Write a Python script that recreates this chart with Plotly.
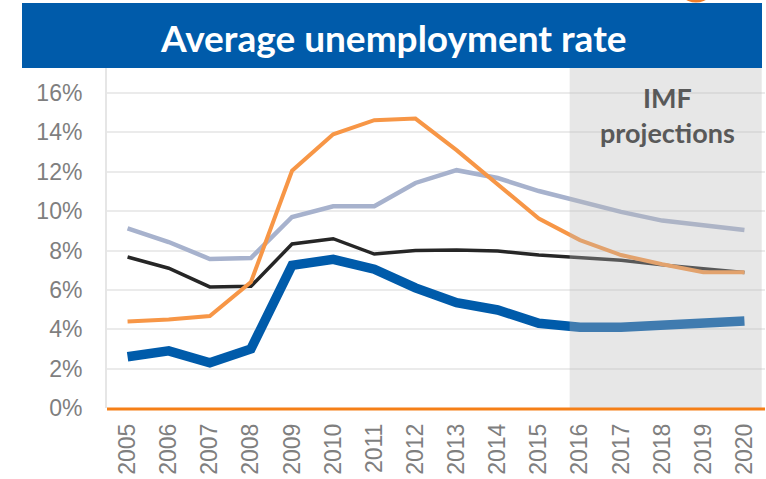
import plotly.graph_objects as go

# Unemployment rate series, 2005-2020 (2016 onwards are projections)
years = list(range(2005, 2021))
blue_series = [2.6, 2.9, 2.3, 3.0, 7.25, 7.55, 7.05, 6.1, 5.35, 4.98, 4.3, 4.1, 4.1, 4.2, 4.3, 4.42]
orange_series = [4.4, 4.5, 4.67, 6.4, 12.05, 13.9, 14.62, 14.7, 13.1, 11.35, 9.62, 8.53, 7.77, 7.3, 6.9, 6.9]
black_series = [7.67, 7.1, 6.15, 6.18, 8.33, 8.6, 7.82, 8.0, 8.03, 7.97, 7.77, 7.65, 7.5, 7.27, 7.08, 6.88]
grey_series = [9.12, 8.43, 7.57, 7.62, 9.7, 10.25, 10.25, 11.43, 12.08, 11.68, 11.02, 10.48, 9.96, 9.52, 9.29, 9.04]
y_ticks = [0, 2, 4, 6, 8, 10, 12, 14, 16]
projection_start = 2015.75
title_text = "Average unemployment rate"
projection_text = "IMF<br>projections"

W, H = 766, 479
L, R, T, B = 107, 1, 68, 71
pw, ph = W - L - R, H - T - B
y_top = 17.27


def px_x(p):
    return (p - L) / pw


def px_y(p):
    return (H - B - p) / ph


fig = go.Figure()
fig.add_trace(go.Scatter(x=years, y=grey_series, mode="lines",
                         line=dict(color="#A7B2CD", width=4.5)))
fig.add_trace(go.Scatter(x=years, y=black_series, mode="lines",
                         line=dict(color="#262626", width=3.5)))
fig.add_trace(go.Scatter(x=years, y=orange_series, mode="lines",
                         line=dict(color="#F79646", width=4)))
fig.add_trace(go.Scatter(x=years, y=blue_series, mode="lines",
                         line=dict(color="#005BAA", width=9.5)))

shapes = [
    # projection band, drawn over the lines so they appear faded
    dict(type="rect", xref="x", yref="y", x0=projection_start, x1=2020.42,
         y0=0, y1=y_top, fillcolor="rgba(185,185,185,0.345)", line=dict(width=0),
         layer="above"),
    # zero baseline
    dict(type="line", xref="paper", yref="paper", x0=0, x1=1, y0=px_y(409), y1=px_y(409),
         line=dict(color="#F57F17", width=3), layer="above"),
    # title banner
    dict(type="rect", xref="paper", yref="paper", x0=px_x(22), x1=px_x(762),
         y0=px_y(68), y1=px_y(3), fillcolor="#005BAA", line=dict(width=0)),
    # small orange mark at top edge
    dict(type="circle", xref="paper", yref="paper", x0=px_x(676), x1=px_x(716),
         y0=px_y(2.5), y1=px_y(-37), fillcolor="#F07E2A", line=dict(width=0)),
]

annotations = [
    dict(text=title_text, xref="paper", yref="paper", x=px_x(393), y=px_y(37),
         showarrow=False, xanchor="center", yanchor="middle",
         font=dict(family="Lato", size=37, color="white", weight="bold")),
    dict(text=projection_text, xref="paper", yref="paper", x=px_x(667), y=px_y(115),
         showarrow=False, xanchor="center", yanchor="middle",
         font=dict(family="Lato", size=27, color="#595959", weight="bold")),
]

fig.update_layout(
    width=W, height=H,
    margin=dict(l=L, r=R, t=T, b=B),
    paper_bgcolor="white", plot_bgcolor="white",
    showlegend=False,
    shapes=shapes,
    annotations=annotations,
    font=dict(family="Liberation Sans, Arial", color="#7F7F7F"),
)
fig.update_xaxes(range=[2004.5, 2020.5], tickvals=years, ticktext=[str(y) for y in years],
                 tickangle=-90, showgrid=False, zeroline=False, showline=False,
                 tickfont=dict(size=23, color="#7F7F7F"), ticklabelstandoff=10)
fig.update_yaxes(range=[0, y_top], tickvals=y_ticks, ticktext=[f"{v}%" for v in y_ticks],
                 showgrid=True, gridcolor="#EBEBEB", gridwidth=2, zeroline=False,
                 showline=True, linecolor="#E6E6E6", linewidth=2,
                 tickfont=dict(size=23, color="#7F7F7F"), ticklabelstandoff=18)

fig.write_html("out.html")
